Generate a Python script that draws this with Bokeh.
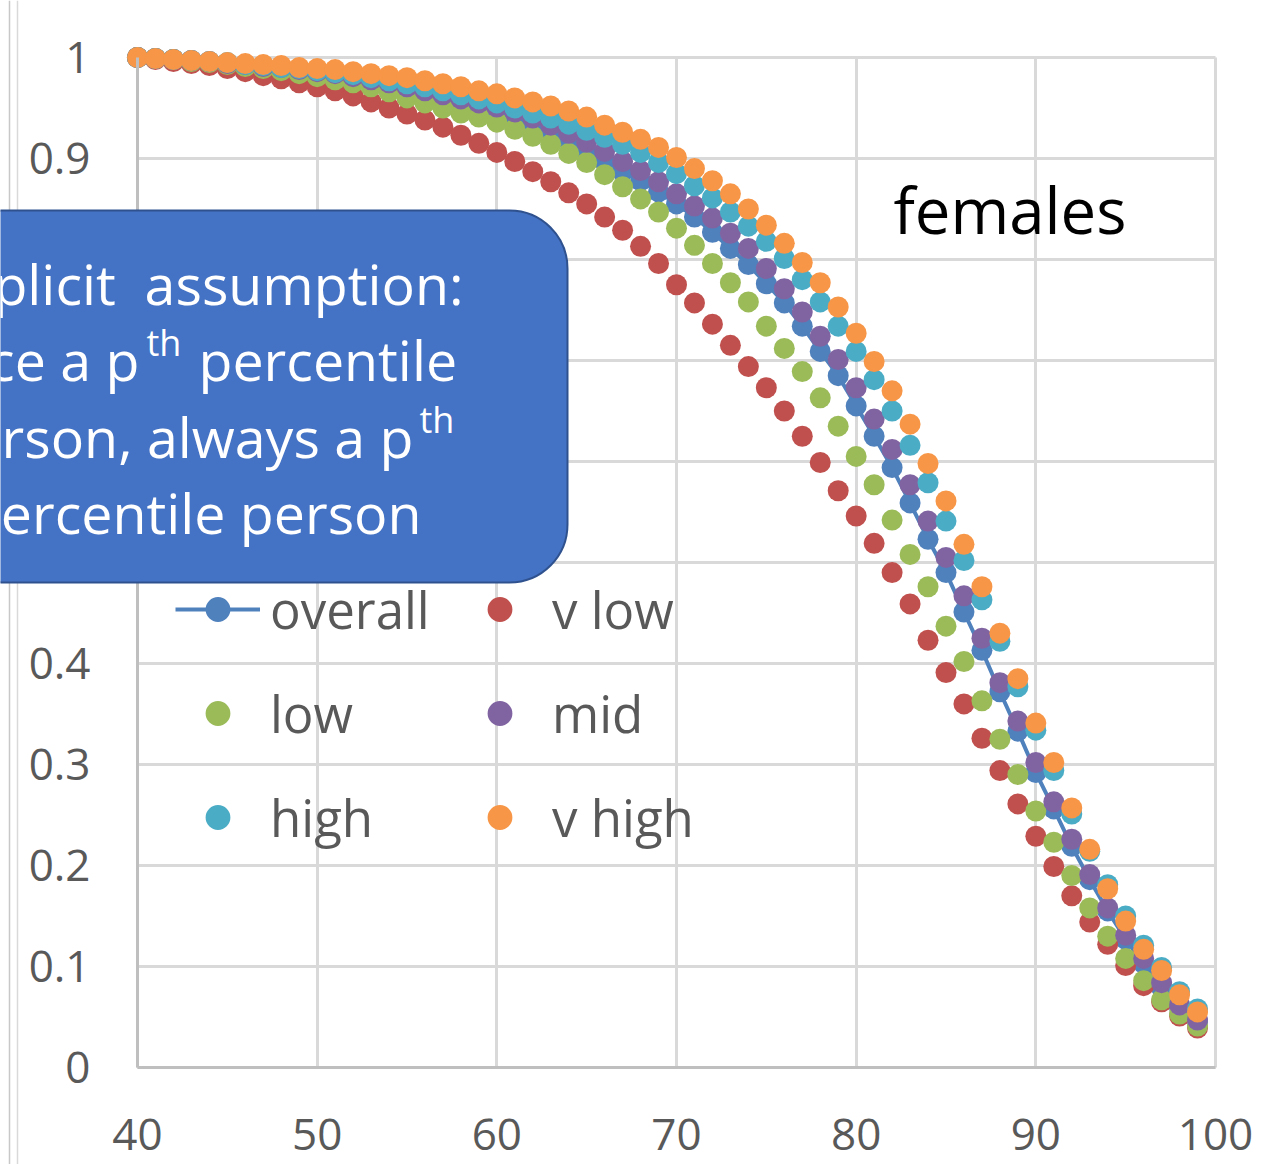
from bokeh.plotting import figure
from bokeh.models import Range1d, FixedTicker, Legend, LegendItem, BoxAnnotation, Label, Arrow
from bokeh.embed import file_html
from bokeh.resources import INLINE

# ---------------- data ----------------
ages = list(range(40, 100))

overall = [1.000, 0.999, 0.998, 0.997, 0.995, 0.994, 0.992, 0.991, 0.989, 0.987,
           0.985, 0.982, 0.980, 0.977, 0.973, 0.969, 0.965, 0.961, 0.956, 0.952,
           0.947, 0.941, 0.934, 0.926, 0.917, 0.906, 0.897, 0.887, 0.878, 0.867,
           0.855, 0.842, 0.827, 0.811, 0.795, 0.776, 0.757, 0.734, 0.709, 0.685,
           0.655, 0.625, 0.594, 0.559, 0.523, 0.490, 0.451, 0.413, 0.372, 0.333,
           0.292, 0.256, 0.219, 0.186, 0.155, 0.127, 0.103, 0.079, 0.059, 0.045]

v_low = [1.000, 0.998, 0.996, 0.994, 0.992, 0.989, 0.986, 0.982, 0.979, 0.975,
         0.971, 0.967, 0.962, 0.956, 0.950, 0.944, 0.938, 0.931, 0.923, 0.915,
         0.906, 0.897, 0.887, 0.877, 0.866, 0.855, 0.842, 0.829, 0.813, 0.796,
         0.775, 0.757, 0.736, 0.715, 0.694, 0.673, 0.650, 0.625, 0.599, 0.571,
         0.546, 0.519, 0.490, 0.459, 0.423, 0.391, 0.360, 0.326, 0.294, 0.261,
         0.229, 0.199, 0.170, 0.144, 0.122, 0.101, 0.081, 0.065, 0.051, 0.039]

low = [1.000, 0.999, 0.998, 0.996, 0.995, 0.993, 0.991, 0.989, 0.987, 0.984,
       0.981, 0.978, 0.975, 0.971, 0.966, 0.960, 0.955, 0.950, 0.945, 0.941,
       0.936, 0.929, 0.922, 0.914, 0.905, 0.896, 0.884, 0.872, 0.860, 0.847,
       0.831, 0.814, 0.796, 0.777, 0.758, 0.734, 0.712, 0.689, 0.663, 0.635,
       0.605, 0.577, 0.542, 0.508, 0.476, 0.437, 0.402, 0.363, 0.325, 0.290,
       0.254, 0.223, 0.190, 0.158, 0.130, 0.108, 0.086, 0.067, 0.053, 0.041]

mid = [1.000, 0.999, 0.998, 0.997, 0.996, 0.994, 0.993, 0.991, 0.990, 0.988,
       0.986, 0.984, 0.981, 0.978, 0.975, 0.971, 0.967, 0.963, 0.959, 0.955,
       0.951, 0.946, 0.940, 0.933, 0.925, 0.916, 0.907, 0.897, 0.888, 0.877,
       0.865, 0.853, 0.841, 0.826, 0.811, 0.791, 0.771, 0.748, 0.724, 0.701,
       0.673, 0.642, 0.612, 0.577, 0.541, 0.505, 0.467, 0.425, 0.381, 0.343,
       0.302, 0.263, 0.226, 0.191, 0.158, 0.131, 0.108, 0.084, 0.062, 0.047]

high = [1.000, 0.999, 0.998, 0.997, 0.996, 0.995, 0.993, 0.992, 0.990, 0.989,
        0.987, 0.985, 0.983, 0.980, 0.977, 0.974, 0.971, 0.967, 0.963, 0.959,
        0.955, 0.950, 0.945, 0.940, 0.934, 0.928, 0.921, 0.914, 0.906, 0.896,
        0.885, 0.873, 0.861, 0.847, 0.833, 0.818, 0.801, 0.780, 0.758, 0.734,
        0.709, 0.681, 0.650, 0.616, 0.579, 0.541, 0.502, 0.463, 0.422, 0.377,
        0.334, 0.294, 0.251, 0.214, 0.181, 0.150, 0.121, 0.099, 0.075, 0.058]

v_high = [1.000, 0.999, 0.998, 0.997, 0.996, 0.995, 0.994, 0.993, 0.992, 0.990,
          0.989, 0.988, 0.986, 0.984, 0.982, 0.980, 0.977, 0.974, 0.971, 0.967,
          0.964, 0.960, 0.956, 0.952, 0.947, 0.941, 0.933, 0.926, 0.919, 0.911,
          0.901, 0.890, 0.878, 0.865, 0.850, 0.834, 0.816, 0.797, 0.777, 0.753,
          0.727, 0.699, 0.670, 0.637, 0.598, 0.561, 0.518, 0.476, 0.430, 0.385,
          0.341, 0.302, 0.257, 0.216, 0.177, 0.145, 0.117, 0.096, 0.072, 0.055]

x_ticks = [40, 50, 60, 70, 80, 90, 100]
x_tick_labels = ["40", "50", "60", "70", "80", "90", "100"]
y_ticks = [0, 0.1, 0.2, 0.3, 0.4, 0.5, 0.6, 0.7, 0.8, 0.9, 1]
y_tick_labels = ["0", "0.1", "0.2", "0.3", "0.4", "0.5", "0.6", "0.7", "0.8", "0.9", "1"]

series_names = ["overall", "v low", "low", "mid", "high", "v high"]
series_colors = ["#4F81BD", "#C0504D", "#9BBB59", "#8064A2", "#4BACC6", "#F79646"]

box_lines = ["Implicit\u00a0 assumption:", "once a p", "th", "percentile",
             "person, always a p", "th", "percentile person"]
panel_title = "females"

# ---------------- layout constants (pixels) ----------------
W, H = 1268, 1164
PX_LEFT, PX_RIGHT = 137, 1215      # screen x of age 40 / 100
PX_TOP, PX_BOTTOM = 57, 1067       # screen y of 1 / 0
sx = (PX_RIGHT - PX_LEFT) / 60.0
sy = (PX_BOTTOM - PX_TOP) / 1.0
X0 = 40 - PX_LEFT / sx
X1 = 100 + (W - PX_RIGHT) / sx
Y0 = -(H - PX_BOTTOM) / sy
Y1 = 1 + PX_TOP / sy

def dx(px):  # screen x -> data x
    return X0 + px / sx

def dy(py):  # screen y (from top) -> data y
    return Y0 + (H - py) / sy

FONT = "Open Sans"
TICK_COLOR = "#595959"
GRID_COLOR = "#D9D9D9"

p = figure(width=W, height=H, x_range=Range1d(X0, X1), y_range=Range1d(Y0, Y1),
           output_backend="svg", toolbar_location=None, min_border=0,
           background_fill_color="white", border_fill_color="white")
p.outline_line_color = None

# axes drawn at the edges of the data area
p.xaxis.fixed_location = 0
p.yaxis.fixed_location = 40
p.xaxis.bounds = (40, 100)
p.yaxis.bounds = (0, 1)
p.xaxis.ticker = FixedTicker(ticks=x_ticks)
p.yaxis.ticker = FixedTicker(ticks=y_ticks)
p.xaxis.major_label_overrides = dict(zip(x_ticks, x_tick_labels))
p.yaxis.major_label_overrides = dict(zip(y_ticks, y_tick_labels))

for ax in (p.xaxis, p.yaxis):
    ax.axis_line_color = "#BFBFBF"
    ax.axis_line_width = 3
    ax.major_tick_line_color = None
    ax.minor_tick_line_color = None
    ax.major_tick_out = 0
    ax.major_tick_in = 0
    ax.major_label_text_font = FONT
    ax.major_label_text_font_size = "44px"
    ax.major_label_text_color = TICK_COLOR
p.yaxis.major_label_standoff = 47
p.xaxis.major_label_standoff = 51

# grid lines restricted to the data area
p.xgrid.ticker = FixedTicker(ticks=x_ticks)
p.ygrid.ticker = FixedTicker(ticks=y_ticks)
try:
    p.xgrid.bounds = (40, 100)
    p.xgrid.cross_bounds = (0, 1)
    p.ygrid.bounds = (0, 1)
    p.ygrid.cross_bounds = (40, 100)
    for g in (p.xgrid, p.ygrid):
        g.grid_line_color = GRID_COLOR
        g.grid_line_width = 3
except Exception:
    p.grid.visible = False
    p.segment(x0=x_ticks, y0=[0] * len(x_ticks), x1=x_ticks, y1=[1] * len(x_ticks),
              line_color=GRID_COLOR, line_width=3)
    p.segment(x0=[40] * len(y_ticks), y0=y_ticks, x1=[100] * len(y_ticks), y1=y_ticks,
              line_color=GRID_COLOR, line_width=3)

# left slide border lines (decoration)
for px, col in ((9, "#C8C8C8"), (17, "#D9D9D9")):
    p.add_layout(Arrow(end=None, x_start=dx(px), y_start=Y0, x_end=dx(px), y_end=Y1,
                       line_color=col, line_width=1.5))

# ---------------- series ----------------
SIZE = 21
r_ov_line = p.line(ages, overall, line_color=series_colors[0], line_width=4)
r_ov = p.scatter(ages, overall, size=SIZE, fill_color=series_colors[0], line_color=None)
r_vlow = p.scatter(ages, v_low, size=SIZE, fill_color=series_colors[1], line_color=None)
r_low = p.scatter(ages, low, size=SIZE, fill_color=series_colors[2], line_color=None)
r_mid = p.scatter(ages, mid, size=SIZE, fill_color=series_colors[3], line_color=None)
r_high = p.scatter(ages, high, size=SIZE, fill_color=series_colors[4], line_color=None)
r_vhigh = p.scatter(ages, v_high, size=SIZE, fill_color=series_colors[5], line_color=None)

# ---------------- legend (two columns) ----------------
def make_legend(items, loc):
    return Legend(items=items, location=loc, orientation="vertical",
                  padding=0, margin=0, spacing=34, glyph_width=85, glyph_height=62,
                  label_standoff=10, label_text_font=FONT, label_text_font_size="51px",
                  label_text_color=TICK_COLOR, label_text_baseline="middle",
                  background_fill_alpha=0, border_line_alpha=0)

LEG_Y = H - 852
leg1 = make_legend([LegendItem(label=series_names[0], renderers=[r_ov_line, r_ov]),
                    LegendItem(label=series_names[2], renderers=[r_low]),
                    LegendItem(label=series_names[4], renderers=[r_high])], (175, LEG_Y))
leg2 = make_legend([LegendItem(label=series_names[1], renderers=[r_vlow]),
                    LegendItem(label=series_names[3], renderers=[r_mid]),
                    LegendItem(label=series_names[5], renderers=[r_vhigh])], (457, LEG_Y))
p.add_layout(leg1)
p.add_layout(leg2)

# ---------------- callout box ----------------
box = BoxAnnotation(left=dx(-200), right=dx(567), top=dy(210), bottom=dy(582),
                    fill_color="#4472C4", fill_alpha=1.0,
                    line_color="#2F528F", line_width=2, line_alpha=1.0,
                    border_radius=58)
p.add_layout(box)

def box_text(txt, px, py, align, size=55.5):
    p.add_layout(Label(x=dx(px), y=dy(py), text=txt, text_align=align,
                       text_baseline="alphabetic", text_font=FONT,
                       text_font_size=f"{size}px", text_color="white"))

box_text(box_lines[0], 463, 283, "right")
box_text(box_lines[1], 139, 359, "right")
box_text(box_lines[2], 146, 342, "left", 36)
box_text(box_lines[3], 198, 359, "left")
box_text(box_lines[4], 413, 436, "right")
box_text(box_lines[5], 419, 419, "left", 36)
box_text(box_lines[6], 421, 512, "right")

p.add_layout(Label(x=dx(893), y=dy(209), text=panel_title, text_align="left",
                   text_baseline="alphabetic", text_font=FONT, text_font_size="63.5px",
                   text_color="black"))

open("out.html", "w").write(file_html(p, INLINE))
